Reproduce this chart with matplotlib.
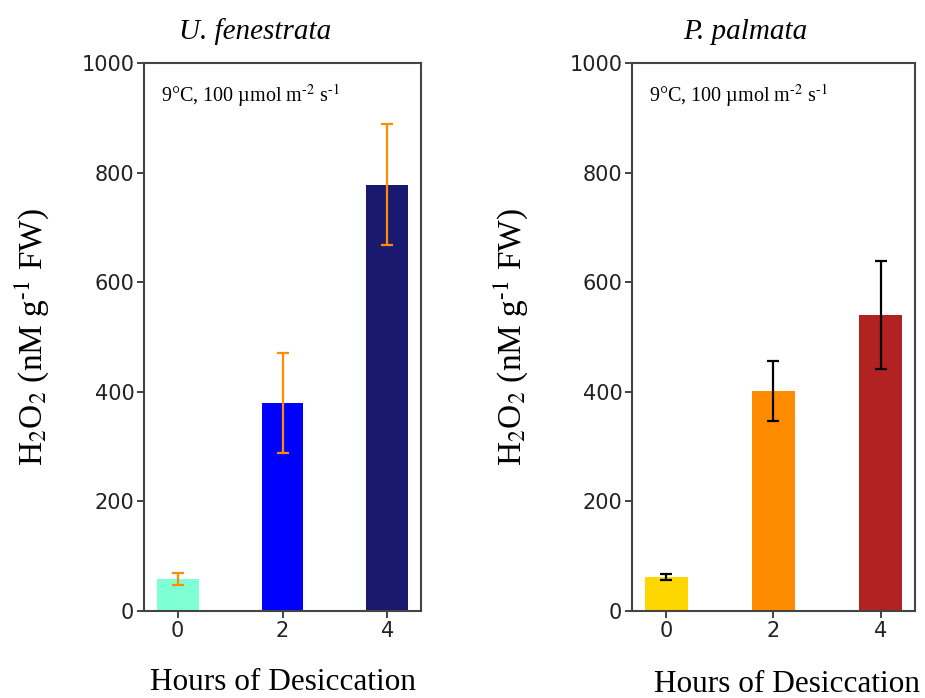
import numpy as np
import matplotlib
matplotlib.use("Agg")
from matplotlib import pyplot as plt

plt.rcParams["mathtext.fontset"] = "stix"

hours = [0, 2, 4]
hour_labels = ["0", "2", "4"]

# U. fenestrata
ulva_mean = [58, 380, 778]
ulva_err = [11, 91, 110]
ulva_colors = ["aquamarine", "blue", "midnightblue"]

# P. palmata
palm_mean = [62, 401, 540]
palm_err = [6, 55, 98]
palm_colors = ["gold", "darkorange", "firebrick"]

serif = "Liberation Serif"
hy = "\u2010"  # short hyphen for the superscripts

fig = plt.figure(figsize=(9.25, 6.98), dpi=100)
ax1 = fig.add_axes([144 / 925, 87 / 698, 277 / 925, 548 / 698])
ax2 = fig.add_axes([632 / 925, 87 / 698, 283 / 925, 548 / 698])

panels = [
    (ax1, ulva_mean, ulva_err, ulva_colors, "darkorange", "U. fenestrata", 22),
    (ax2, palm_mean, palm_err, palm_colors, "black", "P. palmata", 28),
]

for ax, mean, err, colors, ecolor, title, lpad in panels:
    ax.bar(hours, mean, width=0.8, color=colors, yerr=err, ecolor=ecolor,
           error_kw=dict(elinewidth=1.6, capsize=4.5, capthick=1.6))
    ax.set_ylim(0, 1000)
    ax.set_xticks(hours)
    ax.set_xticklabels(hour_labels)
    ax.set_yticks([0, 200, 400, 600, 800, 1000])
    ax.tick_params(labelsize=15, colors="#222222", length=5, width=1.2, pad=2)
    for s in ax.spines.values():
        s.set_color("#444444")
        s.set_linewidth(1.5)
    ax.set_title(title, fontsize=21, family=serif, style="italic", pad=17, x=0.4)
    ax.set_ylabel(r"H$_2$O$_2$ (nM g$^{" + hy + "1}$ FW)", fontsize=24,
                  family=serif, labelpad=lpad)
    ax.text(0.06, 0.94, r"9°C, 100 µmol m$^{" + hy + "2}$ s$^{" + hy + "1}$",
            transform=ax.transAxes, fontsize=14.5, family=serif,
            va="center", ha="left")

ax1.set_xlabel("Hours of Desiccation", fontsize=22.5, family=serif, labelpad=20)
ax2.set_xlabel("Hours of Desiccation", fontsize=22.5, family=serif)
ax2.xaxis.set_label_coords(0.548, -0.108)

fig.savefig("out.png", dpi=100)
